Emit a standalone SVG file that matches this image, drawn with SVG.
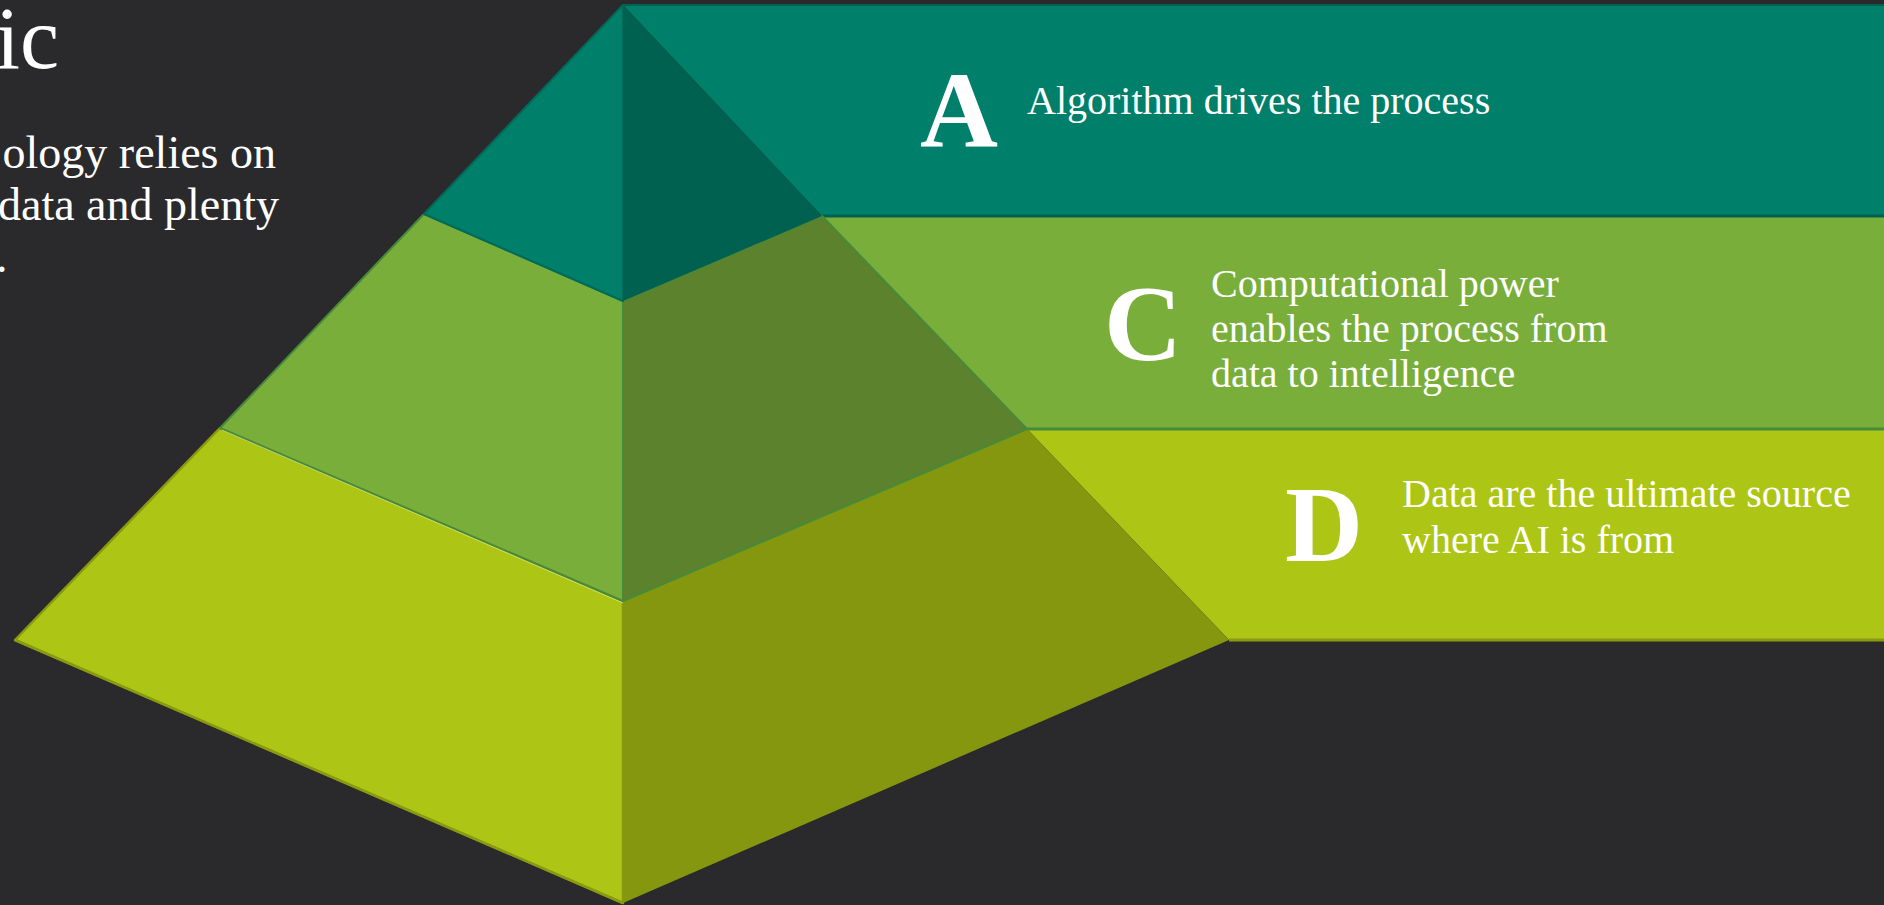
<svg xmlns="http://www.w3.org/2000/svg" width="1884" height="905" viewBox="0 0 1884 905">
  <style>
    .txt { font-family: "Liberation Serif", "Times New Roman", serif; fill: #FFFFFF; }
    .big { font-size: 108px; font-weight: bold; }
    .body { font-size: 40px; }
    .side { font-size: 46px; }
    .teal { fill: #007F6A; }
    .tealD { fill: #006151; }
    .green { fill: #79AE3B; }
    .greenD { fill: #5C822D; }
    .yel { fill: #ADC515; }
    .yelD { fill: #85960F; }
    .sT { stroke: #006B58; stroke-width: 2; stroke-linejoin: round; }
    .sG { stroke: #478A3A; stroke-width: 2; stroke-linejoin: round; }
    .sY { stroke: #8A9A10; stroke-width: 2.5; stroke-linejoin: round; }
  </style>
  <rect x="0" y="0" width="1884" height="905" fill="#2A2A2C"/>

  <g id="title-text">
    <text class="txt" x="59" y="68" font-size="88" text-anchor="end">ic</text>
    <text class="txt side" x="276" y="168" text-anchor="end">ology relies on</text>
    <text class="txt side" x="279" y="220" text-anchor="end">data and plenty</text>
    <text class="txt side" x="-4" y="272">.</text>
  </g>

  <g id="band-D">
    <polygon class="yel" points="1027,429 1884,429 1884,640 1229,640"/>
    <line x1="1229" y1="640" x2="1884" y2="640" stroke="#8A9A10" stroke-width="3"/>
    <text class="txt big" x="1285" y="561">D</text>
    <text class="txt body" x="1402" y="507">Data are the ultimate source</text>
    <text class="txt body" x="1402" y="553">where AI is from</text>
  </g>

  <g id="band-C">
    <polygon class="green" points="822,216 1884,216 1884,429 1027,429"/>
    <line x1="1027" y1="429" x2="1884" y2="429" stroke="#478A3A" stroke-width="3"/>
    <text class="txt big" x="1104" y="360">C</text>
    <text class="txt body" x="1211" y="297">Computational power</text>
    <text class="txt body" x="1211" y="342">enables the process from</text>
    <text class="txt body" x="1211" y="387">data to intelligence</text>
  </g>

  <g id="band-A">
    <polygon class="teal" points="623,5 1884,5 1884,216 822,216"/>
    <line x1="623" y1="5" x2="1884" y2="5" stroke="#006151" stroke-width="2"/>
    <line x1="822" y1="216" x2="1884" y2="216" stroke="#006151" stroke-width="3"/>
    <text class="txt big" x="920" y="147">A</text>
    <text class="txt body" x="1027" y="114">Algorithm drives the process</text>
  </g>

  <g id="pyramid-bottom">
    <polygon class="yel sY" points="220,428 623,601 623,903 15,640"/>
    <polygon class="yelD" points="623,601 1027,429 1229,640 623,903"/>
    <line x1="15" y1="640" x2="623" y2="903" stroke="#8A9A10" stroke-width="2.5"/>
  </g>

  <g id="pyramid-middle">
    <polygon class="green sG" points="424,214 623,301 623,601 220,428"/>
    <polygon class="greenD sG" points="623,301 822,216 1027,429 623,601"/>
    <line x1="222" y1="430" x2="623" y2="603" stroke="#E8F0A0" stroke-width="1" opacity="0.6"/>
  </g>

  <g id="pyramid-top">
    <polygon class="teal sT" points="623,5 424,214 623,301"/>
    <polygon class="tealD" points="623,5 623,301 822,216"/>
  </g>
</svg>
